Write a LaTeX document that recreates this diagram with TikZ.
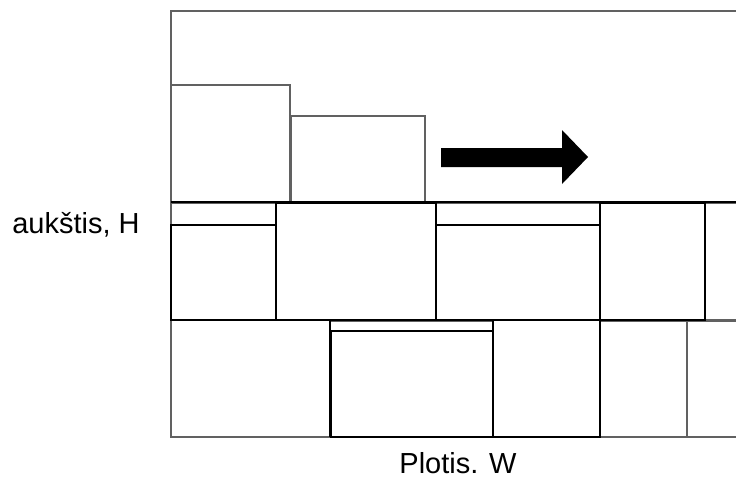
\documentclass[tikz,border=0pt]{standalone}
\usepackage{fontspec}
\setmainfont{Liberation Sans}
\begin{document}
\begin{tikzpicture}[x=1pt,y=-1pt,
  gline/.style={draw=black!62,line width=2pt},
  kline/.style={draw=black,line width=1.8pt},
  label/.style={font=\fontsize{29}{32}\selectfont,anchor=base,inner sep=0pt}]
\useasboundingbox (0,0) rectangle (736,479);
\begin{scope}
\clip (0,0) rectangle (736,479);
% container outline (open on the right)
\draw[gline] (740,11) -- (171,11) -- (171,437) -- (740,437);
% top layer blocks
\draw[gline] (171,85) rectangle (290,202);
\draw[gline] (291,116) rectangle (425,202);
% middle layer slots
\draw[gline] (171,203) rectangle (276,320);
\draw[gline] (436,203) rectangle (600,320);
\draw[gline] (705,203) rectangle (745,320);
% bottom layer slots
\draw[gline] (330,321) rectangle (493,437);
\draw[gline] (600,321) rectangle (687,437);
\draw[gline] (687,321) rectangle (745,437);
% layer boundaries
\draw[kline] (171,202) -- (740,202);
\draw[kline] (171,320) -- (705,320);
% middle layer blocks
\draw[kline] (171,225) rectangle (276,320);
\draw[kline] (276,203) rectangle (436,320);
\draw[kline] (436,225) rectangle (600,320);
\draw[kline] (600,203) rectangle (705,320);
% bottom layer blocks
\draw[kline] (330,321) -- (330,437);
\draw[kline] (331,331) rectangle (493,437);
\draw[kline] (493,320) rectangle (600,437);
% direction arrow
\fill[black] (441,148) -- (562,148) -- (562,130) -- (588,157) -- (562,184)
  -- (562,167) -- (441,167) -- cycle;
\end{scope}
\node[label] (h) at (76,233) {aukštis, H};
\node[label] (w) at (458,473) {Plotis. W};
\end{tikzpicture}
\end{document}
